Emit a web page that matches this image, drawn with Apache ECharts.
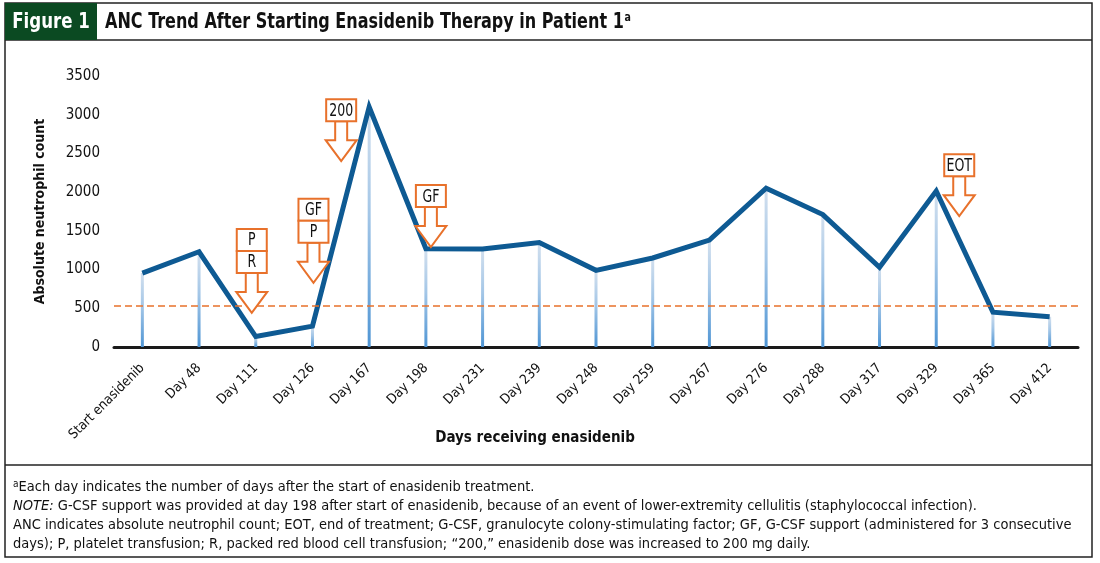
<!DOCTYPE html>
<html>
<head>
<meta charset="utf-8">
<script src="https://cdn.jsdelivr.net/npm/echarts@6/dist/echarts.min.js"></script>
<style>
html,body{margin:0;padding:0;background:#fff;}
#c{width:1100px;height:563px;}
</style>
</head>
<body>
<div id="c"></div>
<script>
// ---- data ----
const categories = ['Start enasidenib','Day 48','Day 111','Day 126','Day 167','Day 198','Day 231','Day 239','Day 248','Day 259','Day 267','Day 276','Day 288','Day 317','Day 329','Day 365','Day 412'];
const ancValues = [955, 1230, 135, 270, 3100, 1270, 1265, 1350, 990, 1150, 1380, 2050, 1710, 1030, 2015, 450, 390];
const thresholdValue = 530;
const yTicks = [0, 500, 1000, 1500, 2000, 2500, 3000, 3500];
const annotCategories = ['Day 111', 'Day 126', 'Day 167', 'Day 198', 'Day 329'];
const annotLabels = [['P', 'R'], ['GF', 'P'], ['200'], ['GF'], ['EOT']];
const titleText = 'ANC Trend After Starting Enasidenib Therapy in Patient 1';
const footnotes = [
  '{sup|a}Each day indicates the number of days after the start of enasidenib treatment.',
  '{it|NOTE:} G-CSF support was provided at day 198 after start of enasidenib, because of an event of lower-extremity cellulitis (staphylococcal infection).',
  'ANC indicates absolute neutrophil count; EOT, end of treatment; G-CSF, granulocyte colony-stimulating factor; GF, G-CSF support (administered for 3 consecutive',
  'days); P, platelet transfusion; R, packed red blood cell transfusion; \u201c200,\u201d enasidenib dose was increased to 200 mg daily.'
];

// ---- styling / layout ----
const FONT = "'Liberation Sans Narrow','DejaVu Sans Condensed','Arial Narrow',sans-serif";
const ORANGE = '#e8712b';
const LINE_BLUE = '#0e5a93';
// annotation tip placement (value on y scale and pixel shift from category centre)
const annotPlace = [
  {tipValue: 440, dx: -4},
  {tipValue: 830, dx: 1},
  {tipValue: 2400, dx: -28},
  {tipValue: 1290, dx: 5},
  {tipValue: 1690, dx: 23}
];

const chart = echarts.init(document.getElementById('c'), null, {renderer: 'canvas'});

const option = {
  animation: false,
  backgroundColor: '#fff',
  textStyle: {fontFamily: FONT},
  grid: {left: 114, right: 22, top: 76, bottom: 216, containLabel: false},
  xAxis: {
    type: 'category',
    data: categories,
    boundaryGap: true,
    axisLine: {show: true, lineStyle: {color: '#1a1a1a', width: 3}},
    axisTick: {show: false},
    axisLabel: {rotate: 45, fontSize: 13.6, color: '#111', margin: 19, fontFamily: FONT, interval: 0}
  },
  yAxis: {
    type: 'value',
    min: yTicks[0],
    max: yTicks[yTicks.length - 1],
    interval: yTicks[1] - yTicks[0],
    name: 'Absolute neutrophil count',
    nameLocation: 'middle',
    nameGap: 67,
    nameTextStyle: {fontSize: 14, fontWeight: 'bold', color: '#111', fontFamily: FONT},
    axisLine: {show: false},
    axisTick: {show: false},
    splitLine: {show: false},
    axisLabel: {fontSize: 15, color: '#111', margin: 14, fontFamily: FONT, formatter: function (v) { return String(v); }}
  },
  series: [
    {
      type: 'bar',
      data: ancValues,
      barWidth: 3,
      silent: true,
      itemStyle: {
        color: new echarts.graphic.LinearGradient(0, 0, 0, 1, [
          {offset: 0, color: '#d3e0ee'},
          {offset: 0.45, color: '#a3c6e7'},
          {offset: 1, color: '#4f95d4'}
        ])
      },
      z: 1
    },
    {
      type: 'line',
      data: ancValues,
      symbol: 'none',
      lineStyle: {color: LINE_BLUE, width: 5, join: 'miter'},
      z: 3,
      markLine: {
        silent: true,
        symbol: 'none',
        label: {show: false},
        lineStyle: {color: ORANGE, type: [7, 4], width: 1.5},
        data: [{yAxis: thresholdValue}]
      }
    }
  ]
};
chart.setOption(option);

// ---- frame, titles, annotations ----
const g = [];
g.push({type: 'rect', shape: {x: 5, y: 3, width: 1087, height: 554}, style: {fill: null, stroke: '#222', lineWidth: 1.5}, silent: true, z: 10});
g.push({type: 'line', shape: {x1: 5, y1: 40, x2: 1092, y2: 40}, style: {stroke: '#222', lineWidth: 1.5}, silent: true, z: 10});
g.push({type: 'line', shape: {x1: 5, y1: 465, x2: 1092, y2: 465}, style: {stroke: '#222', lineWidth: 1.5}, silent: true, z: 10});
g.push({type: 'rect', shape: {x: 5, y: 3, width: 92, height: 37}, style: {fill: '#0b4a22'}, silent: true, z: 11});
g.push({type: 'text', x: 51, y: 22, scaleX: 0.84, style: {text: 'Figure 1', fill: '#fff', font: 'bold 22px ' + FONT, align: 'center', verticalAlign: 'middle'}, silent: true, z: 12});
g.push({type: 'text', x: 105, y: 22, scaleX: 0.81, style: {text: titleText + '{sup|a}', fill: '#111', font: 'bold 22px ' + FONT, verticalAlign: 'middle',
  rich: {sup: {font: 'bold 13px ' + FONT, fill: '#111', padding: [0, 0, 8, 1]}}}, silent: true, z: 12});
g.push({type: 'text', x: 535, y: 438, style: {text: 'Days receiving enasidenib', fill: '#111', font: 'bold 15px ' + FONT, align: 'center', verticalAlign: 'middle'}, silent: true, z: 12});
const fy = [487, 506, 525, 544];
footnotes.forEach(function (t, i) {
  g.push({type: 'text', x: 13, y: fy[i], style: {text: t, fill: '#111', font: '14.5px ' + FONT, verticalAlign: 'middle',
    rich: {
      sup: {font: '10px ' + FONT, fill: '#111', padding: [0, 0, 6, 0]},
      it: {font: 'italic 14.5px ' + FONT, fill: '#111'}
    }}, silent: true, z: 12});
});
annotCategories.forEach(function (cat, i) {
  const idx = categories.indexOf(cat);
  const p = chart.convertToPixel({gridIndex: 0}, [idx, annotPlace[i].tipValue]);
  const tx = p[0] + annotPlace[i].dx, ty = p[1];
  const stemTop = ty - 40, headTop = ty - 21;
  g.push({type: 'polygon', shape: {points: [[tx - 6, stemTop], [tx - 6, headTop], [tx - 15.5, headTop], [tx, ty], [tx + 15.5, headTop], [tx + 6, headTop], [tx + 6, stemTop]]},
    style: {fill: '#fff', stroke: ORANGE, lineWidth: 2}, silent: true, z: 20});
  const labels = annotLabels[i];
  const bh = 22, bw = 30;
  labels.forEach(function (lab, k) {
    const by = stemTop - bh * (labels.length - k);
    g.push({type: 'rect', shape: {x: tx - bw / 2, y: by, width: bw, height: bh}, style: {fill: '#fff', stroke: ORANGE, lineWidth: 2}, silent: true, z: 21});
    g.push({type: 'text', x: tx, y: by + bh / 2 + 1, scaleX: 0.82, style: {text: lab, fill: '#111', font: '17px ' + FONT, align: 'center', verticalAlign: 'middle'}, silent: true, z: 22});
  });
});
chart.setOption({graphic: g});
</script>
</body>
</html>
